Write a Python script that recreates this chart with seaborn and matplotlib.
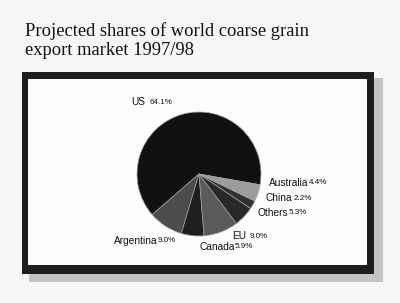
import numpy as np
import matplotlib
matplotlib.use("Agg")
import matplotlib.pyplot as plt
import seaborn as sns
from matplotlib.patches import Rectangle

#------------------------------------------------------------
# Datos del grafico
#------------------------------------------------------------
paises = ['US', 'Argentina', 'Canada', 'EU', 'Others', 'China', 'Australia']
shares = [64.1, 9.0, 5.9, 9.0, 5.3, 2.2, 4.4]
etiquetas_pct = ['64.1%', '9.0%', '5.9%', '9.0%', '5.3%', '2.2%', '4.4%']
colores = ['#111111', '#4c4c4c', '#1e1e1e', '#5a5a5a', '#282828', '#303030', '#9c9c9c']

# posiciones de etiquetas (pixeles desde arriba-izquierda) y separacion nombre-porcentaje
pos_nombre = [(131, 102), (114, 241), (199, 247), (232, 236), (257, 213), (265, 198), (269, 183)]
sep_pct = [5, 0, 0, 4, 1, 2, 0]

W, H = 400, 303

sns.set_theme(style="white")
plt.rcParams['font.family'] = ['Liberation Sans', 'DejaVu Sans']

fig = plt.figure(figsize=(W / 100, H / 100), dpi=100)
fig.patch.set_facecolor('#f6f6f6')
ax = fig.add_axes([0, 0, 1, 1])

def py(y):
  # convierte coordenada de pixel (desde arriba) a coordenada del eje
  return H - y

# Sombra, marco negro y fondo blanco
ax.add_patch(Rectangle((29, py(282)), 354, 204, facecolor='#c4c4c4', edgecolor='none', zorder=0))
ax.add_patch(Rectangle((22, py(274)), 352, 202, facecolor='#1e1e1e', edgecolor='none', zorder=1))
ax.add_patch(Rectangle((28, py(265)), 339, 186, facecolor='#fcfcfc', edgecolor='none', zorder=2))

# Titulo
fuente_titulo = ['Liberation Serif', 'DejaVu Serif']
fig.text(25 / W, 1 - 36 / H, 'Projected shares of world coarse grain',
         fontsize=13.3, family=fuente_titulo, color='#111111', va='baseline')
fig.text(25 / W, 1 - 55 / H, 'export market 1997/98',
         fontsize=13.3, family=fuente_titulo, color='#111111', va='baseline')

# Pastel
wedges, _ = ax.pie(shares, colors=colores, startangle=-10, counterclock=True,
                   center=(199, py(174)), radius=62, frame=True,
                   wedgeprops={'edgecolor': '#a0a0a0', 'linewidth': 0.5})
for w in wedges:
  w.set_zorder(3)
ax.set_xlim(0, W)
ax.set_ylim(0, H)
ax.set_aspect('equal')
ax.axis('off')

# Etiquetas: nombre y porcentaje justo a su derecha
fig.canvas.draw()
renderer = fig.canvas.get_renderer()
for nombre, pct, pn, sep in zip(paises, etiquetas_pct, pos_nombre, sep_pct):
  t = ax.text(pn[0], py(pn[1]), nombre, fontsize=7.3, color='#111111',
              ha='left', va='center', zorder=5)
  bb = t.get_window_extent(renderer=renderer)
  x_fin = ax.transData.inverted().transform((bb.x1, bb.y0))[0]
  ax.text(x_fin + sep, py(pn[1]), pct, fontsize=5.8, color='#111111',
          ha='left', va='center', zorder=5)

plt.savefig('out.png', dpi=100, facecolor=fig.get_facecolor())
